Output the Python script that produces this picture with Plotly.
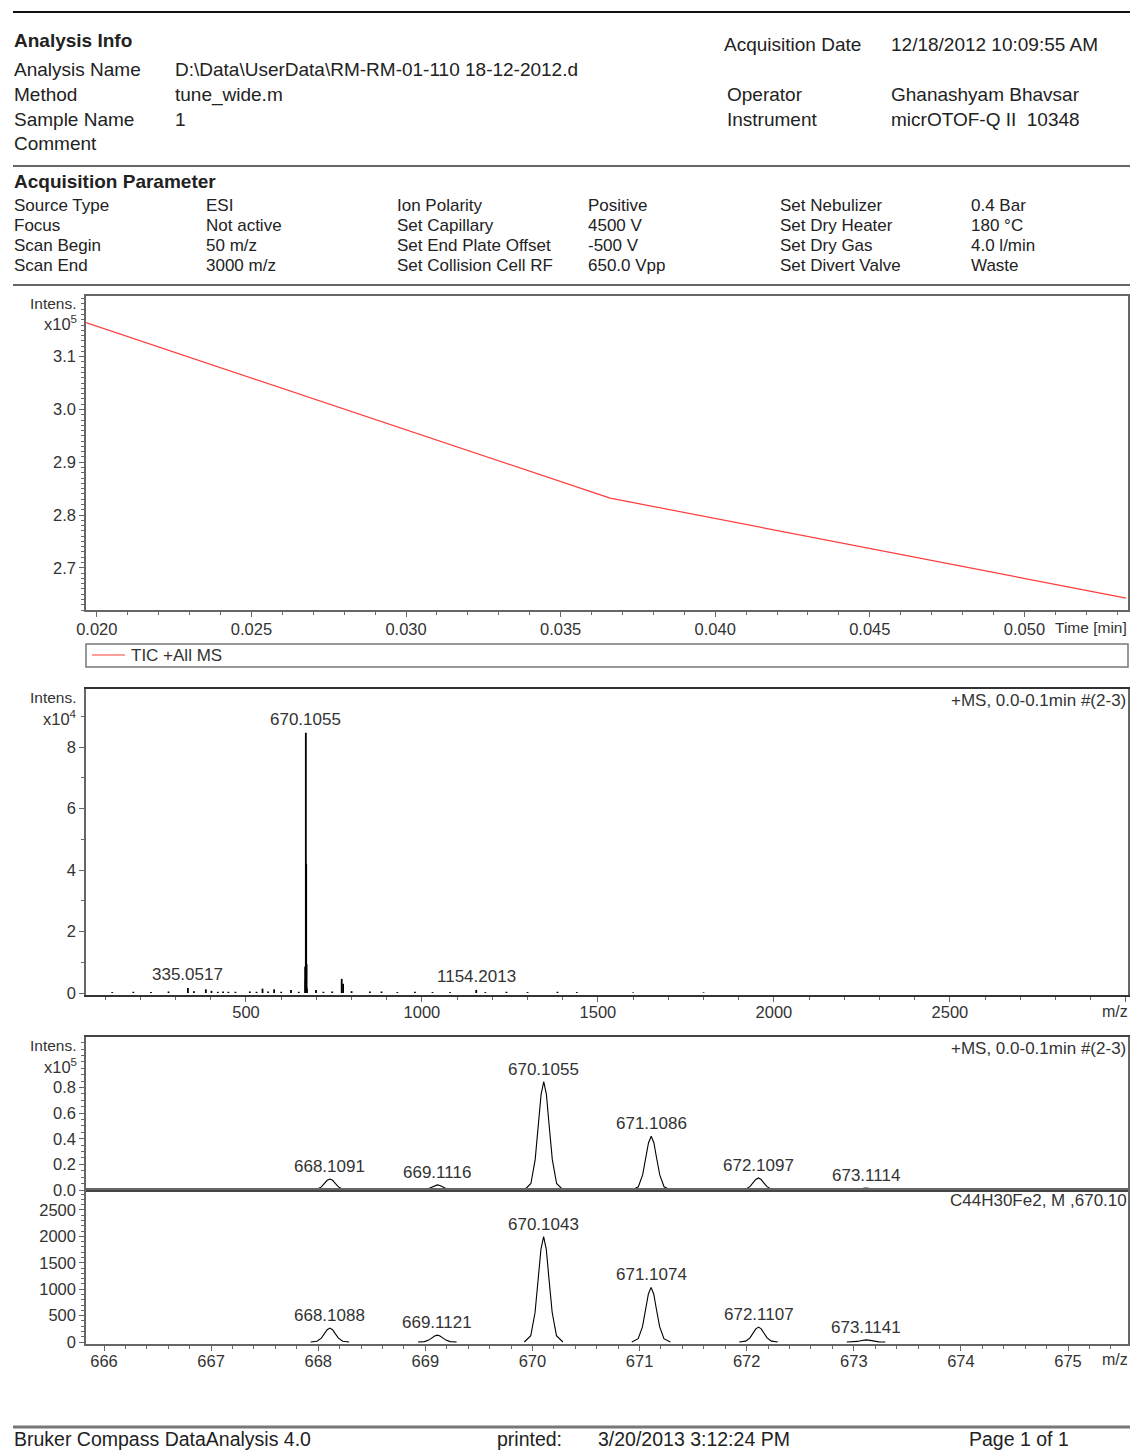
import plotly.graph_objects as go

W, H = 1130, 1450

# ---------------- report header ----------------
info_labels = ["Analysis Name", "Method", "Sample Name", "Comment"]
info_values = ["D:\\Data\\UserData\\RM-RM-01-110 18-12-2012.d", "tune_wide.m", "1", ""]
info_right_labels = ["Acquisition Date", "Operator", "Instrument"]
info_right_values = ["12/18/2012 10:09:55 AM", "Ghanashyam Bhavsar", "micrOTOF-Q II  10348"]

param_labels_1 = ["Source Type", "Focus", "Scan Begin", "Scan End"]
param_values_1 = ["ESI", "Not active", "50 m/z", "3000 m/z"]
param_labels_2 = ["Ion Polarity", "Set Capillary", "Set End Plate Offset", "Set Collision Cell RF"]
param_values_2 = ["Positive", "4500 V", "-500 V", "650.0 Vpp"]
param_labels_3 = ["Set Nebulizer", "Set Dry Heater", "Set Dry Gas", "Set Divert Valve"]
param_values_3 = ["0.4 Bar", "180 °C", "4.0 l/min", "Waste"]

footer_texts = ["Bruker Compass DataAnalysis 4.0", "printed:", "3/20/2013 3:12:24 PM", "Page 1 of 1"]

# ---------------- TIC trace (x10^5) ----------------
tic_time_min = [0.01965, 0.0366, 0.05329]
tic_intensity_e5 = [3.1645, 2.832, 2.6425]
tic_ticks = [2.7, 2.8, 2.9, 3.0, 3.1]

# ---------------- full MS spectrum (x10^4) ----------------
ms_mz = [120, 180, 230, 280, 335.0517, 352, 386, 402, 420, 435, 450, 470, 511, 530,
         547, 563, 580, 600, 628, 650, 668.1091, 669.1116, 670.1055, 671.1086,
         672.1097, 673.1114, 699, 720, 745, 772, 776, 800, 852, 885, 930, 980,
         1030, 1080, 1154.2013, 1180, 1240, 1300, 1385, 1440, 1600, 1800]
ms_intensity_e4 = [0.03, 0.04, 0.03, 0.05, 0.16, 0.06, 0.12, 0.07, 0.04, 0.05, 0.04, 0.04,
                   0.05, 0.04, 0.14, 0.05, 0.12, 0.04, 0.10, 0.04, 0.86, 0.40, 8.46, 4.20,
                   0.94, 0.15, 0.10, 0.04, 0.05, 0.46, 0.30, 0.06, 0.05, 0.05, 0.03, 0.04,
                   0.03, 0.03, 0.10, 0.03, 0.04, 0.03, 0.04, 0.03, 0.02, 0.02]
ms_labeled_mz = [335.0517, 670.1055, 1154.2013]

# ---------------- isotope pattern ----------------
iso_meas_mz = [668.1091, 669.1116, 670.1055, 671.1086, 672.1097, 673.1114]
iso_meas_e5 = [0.086, 0.040, 0.846, 0.420, 0.094, 0.015]
iso_meas_ticks = [0.0, 0.2, 0.4, 0.6, 0.8]
iso_sim_mz = [668.1088, 669.1121, 670.1043, 671.1074, 672.1107, 673.1141]
iso_sim_int = [263, 130, 1992, 1034, 282, 40]
# peak outline: m/z offset from apex and fraction of apex height
profile_offset = [-0.18, -0.12, -0.08, -0.05, -0.025, 0.0, 0.025, 0.05, 0.08, 0.12, 0.18]
profile_fraction = [0.0, 0.06, 0.28, 0.60, 0.88, 1.0, 0.88, 0.60, 0.28, 0.06, 0.0]

SANS = "Liberation Sans, Arial, sans-serif"
INK = "#222222"
GREY_TXT = "#333333"
FRAME = "#666666"


def px(x):
    return x / W


def py(y):
    return 1 - y / H


def sticks(xs, ys):
    sx, sy = [], []
    for x, y in zip(xs, ys):
        sx += [x, x, None]
        sy += [0, y, None]
    return sx, sy


def profiles(centers, heights):
    sx, sy = [], []
    for c, h in zip(centers, heights):
        sx += [c + o for o in profile_offset] + [None]
        sy += [h * f for f in profile_fraction] + [None]
    return sx, sy


fig = go.Figure()

fig.add_trace(go.Scatter(x=tic_time_min, y=tic_intensity_e5, mode="lines",
                         line=dict(color="#ff3b3b", width=1.2),
                         xaxis="x", yaxis="y", showlegend=False))

sx, sy = sticks(ms_mz, ms_intensity_e4)
fig.add_trace(go.Scatter(x=sx, y=sy, mode="lines", line=dict(color="black", width=1.8),
                         xaxis="x2", yaxis="y2", showlegend=False))

sx, sy = profiles(iso_meas_mz, iso_meas_e5)
fig.add_trace(go.Scatter(x=sx, y=sy, mode="lines", line=dict(color="black", width=1.1),
                         xaxis="x3", yaxis="y3", showlegend=False))

sx, sy = profiles(iso_sim_mz, iso_sim_int)
fig.add_trace(go.Scatter(x=sx, y=sy, mode="lines", line=dict(color="black", width=1.1),
                         xaxis="x4", yaxis="y4", showlegend=False))

tickfont = dict(family=SANS, size=16.5, color=GREY_TXT)
xdom = [px(86), px(1128)]


def minor(t0, dt):
    return dict(tickmode="linear", tick0=t0, dtick=dt, ticks="outside", ticklen=3,
                tickcolor=FRAME, showgrid=False)


def axis(**kw):
    base = dict(showgrid=False, zeroline=False, showline=True, linecolor=FRAME, linewidth=1.5,
                mirror=True, ticks="outside", ticklen=5, tickcolor=FRAME, tickwidth=1,
                tickfont=tickfont, fixedrange=True, automargin=False)
    base.update(kw)
    return base


fig.update_layout(
    width=W, height=H, margin=dict(l=0, r=0, t=0, b=0, pad=0, autoexpand=False), autosize=False,
    paper_bgcolor="white", plot_bgcolor="white", showlegend=False,
    xaxis=axis(domain=xdom, anchor="y", range=[0.01965, 0.05335], tick0=0.02, dtick=0.005,
               tickformat=".3f", ticklabelstandoff=-2, minor=minor(0.02, 0.001)),
    yaxis=axis(domain=[py(610), py(296)], anchor="x", range=[2.62, 3.215],
               tickmode="array", tickvals=tic_ticks, ticktext=[f"{v:.1f}" for v in tic_ticks],
               minor=minor(2.7, 0.01)),
    xaxis2=axis(domain=xdom, anchor="y2", range=[45.5, 3006], tick0=0, dtick=500,
                linecolor="#333333", linewidth=2, ticklabelstandoff=-4, minor=minor(0, 100)),
    yaxis2=axis(domain=[py(995), py(689)], anchor="x2", range=[-0.065, 9.886], tick0=0, dtick=2,
                minor=minor(0, 1)),
    xaxis3=axis(domain=xdom, anchor="y3", range=[665.832, 675.56], showticklabels=False,
                ticks="", matches="x4", linecolor="#444444", linewidth=2),
    yaxis3=axis(domain=[py(1190), py(1037)], anchor="x3", range=[0, 1.195],
                tickmode="array", tickvals=iso_meas_ticks,
                ticktext=[f"{v:.1f}" for v in iso_meas_ticks], minor=minor(0, 0.05)),
    xaxis4=axis(domain=xdom, anchor="y4", range=[665.832, 675.56], tick0=666, dtick=1,
                ticklabelstandoff=-4, minor=minor(666, 0.2)),
    yaxis4=axis(domain=[py(1344), py(1190)], anchor="x4", range=[-37.6, 2876], tick0=0, dtick=500,
                minor=minor(0, 100)),
)

ann = []
shapes = []


def text(x, y, s, size=19, bold=False, anchor="left", color=INK):
    ann.append(dict(xref="paper", yref="paper", x=px(x), y=py(y), text=f"<b>{s}</b>" if bold else s,
                    showarrow=False, xanchor=anchor, yanchor="middle", borderpad=0,
                    font=dict(family=SANS, size=size, color=color)))


def hline(y, x0=13, x1=1130, color=FRAME, width=2):
    shapes.append(dict(type="line", xref="paper", yref="paper", x0=px(x0), x1=px(x1),
                       y0=py(y), y1=py(y), line=dict(color=color, width=width)))


# header block
hline(12, color="#111111", width=2)
text(13, 40, "Analysis Info", bold=True)
for i, (lab, val) in enumerate(zip(info_labels, info_values)):
    y = 70 + i * 24.5
    text(13, y, lab)
    if val:
        text(174, y, val)
for lab, val, y in zip(info_right_labels, info_right_values, [45, 94, 119]):
    text(723 if lab.startswith("Acq") else 726, y, lab)
    text(890, y, val)

hline(166)
text(13, 182, "Acquisition Parameter", size=19, bold=True)
cols = [(13, 205, param_labels_1, param_values_1),
        (396, 587, param_labels_2, param_values_2),
        (779, 970, param_labels_3, param_values_3)]
for xl, xv, labs, vals in cols:
    for i, (lab, val) in enumerate(zip(labs, vals)):
        y = 206 + i * 19.7
        text(xl, y, lab, size=17)
        text(xv, y, val, size=17)
hline(285)

# axis captions
for y_int, y_exp, exp in [(303, 323, 5), (697, 718, 4), (1045, 1066, 5)]:
    text(78, y_int, "Intens.", size=15.5, anchor="right", color=GREY_TXT)
    text(78, y_exp, f"x10<sup>{exp}</sup>", size=16.5, anchor="right", color=GREY_TXT)
text(1128, 628, "Time [min]", size=15.5, anchor="right", color=GREY_TXT)
text(1129, 1011, "m/z", size=16, anchor="right", color=GREY_TXT)
text(1129, 1359, "m/z", size=16, anchor="right", color=GREY_TXT)
text(1127, 700, "+MS, 0.0-0.1min #(2-3)", size=17, anchor="right", color=GREY_TXT)
text(1127, 1048, "+MS, 0.0-0.1min #(2-3)", size=17, anchor="right", color=GREY_TXT)
text(1128, 1200, "C44H30Fe2, M ,670.10", size=17, anchor="right", color=GREY_TXT)

# TIC legend box
shapes.append(dict(type="rect", xref="paper", yref="paper", x0=px(86), x1=px(1128),
                   y0=py(667), y1=py(644), line=dict(color="#777777", width=1.5)))
shapes.append(dict(type="line", xref="paper", yref="paper", x0=px(92), x1=px(125),
                   y0=py(655), y1=py(655), line=dict(color="#ff3b3b", width=1.2)))
text(130, 655, "TIC +All MS", size=17, color=GREY_TXT)

# peak labels
label_font = dict(family=SANS, size=17, color=GREY_TXT)
for mz, h in zip(ms_mz, ms_intensity_e4):
    if mz in ms_labeled_mz:
        ann.append(dict(xref="x2", yref="y2", x=mz, y=h, text=f"{mz:.4f}", showarrow=False,
                        xanchor="center", yanchor="bottom", yshift=3, borderpad=0, font=label_font))
for mz, h in zip(iso_meas_mz, iso_meas_e5):
    ann.append(dict(xref="x3", yref="y3", x=mz, y=h, text=f"{mz:.4f}", showarrow=False,
                    xanchor="center", yanchor="bottom", yshift=2, borderpad=0, font=label_font))
for mz, h in zip(iso_sim_mz, iso_sim_int):
    ann.append(dict(xref="x4", yref="y4", x=mz, y=h, text=f"{mz:.4f}", showarrow=False,
                    xanchor="center", yanchor="bottom", yshift=2, borderpad=0, font=label_font))

# footer
hline(1427, color="#777777", width=3)
for s, x in zip(footer_texts, [13, 496, 597, 968]):
    text(x, 1439, s, size=19.5)

fig.update_layout(annotations=ann, shapes=shapes)

# pin the page to exactly the figure size (no body margin, no stray line box below the plot)
page_css = ("html,body{margin:0;padding:0;overflow:hidden;width:%dpx;height:%dpx;}"
            "body>div{display:block;width:%dpx;height:%dpx;overflow:hidden;line-height:0;}"
            ".plotly-graph-div{display:block;}") % (W, H, W, H)
fig.write_html(
    "out.html",
    post_script="var s=document.createElement('style');s.innerHTML='" + page_css + "';"
                "document.head.appendChild(s);",
)
